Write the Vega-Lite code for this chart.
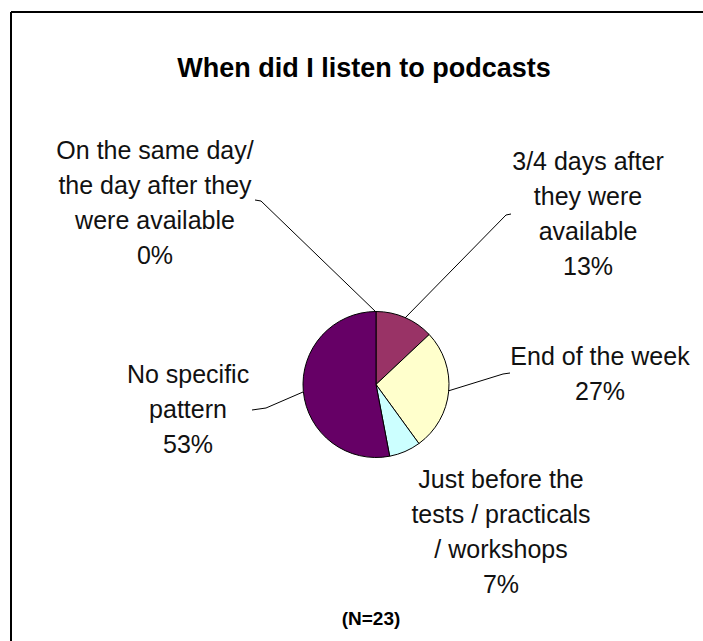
{
  "$schema": "https://vega.github.io/schema/vega-lite/v6.json",
  "width": 703,
  "height": 641,
  "autosize": {"type": "none"},
  "padding": 0,
  "background": "white",
  "config": {"view": {"stroke": null}},
  "datasets": {
    "borders": [
      {"x": 11, "y": 12, "x2": 703, "y2": 12},
      {"x": 11, "y": 12, "x2": 11, "y2": 641}
    ],
    "slices": [
      {"cat": "On the same day/ the day after they were available", "pct": 0, "ord": 1},
      {"cat": "3/4 days after they were available", "pct": 13, "ord": 2},
      {"cat": "End of the week", "pct": 27, "ord": 3},
      {"cat": "Just before the tests / practicals / workshops", "pct": 7, "ord": 4},
      {"cat": "No specific pattern", "pct": 53, "ord": 5}
    ],
    "leaders": [
      {"x": 255, "y": 200, "x2": 261, "y2": 201},
      {"x": 261, "y": 201, "x2": 376, "y2": 312},
      {"x": 511, "y": 214, "x2": 506, "y2": 215},
      {"x": 506, "y": 215, "x2": 405, "y2": 318},
      {"x": 448, "y": 391, "x2": 503, "y2": 374},
      {"x": 503, "y": 374, "x2": 510, "y2": 373},
      {"x": 252, "y": 410, "x2": 266, "y2": 408},
      {"x": 266, "y": 408, "x2": 303, "y2": 392}
    ],
    "labels": [
      {"label": ["On the same day/", "the day after they", "were available", "0%"], "x": 155, "y": 151},
      {"label": ["3/4 days after", "they were", "available", "13%"], "x": 588, "y": 162},
      {"label": ["End of the week", "27%"], "x": 600, "y": 357},
      {"label": ["No specific", "pattern", "53%"], "x": 188, "y": 375},
      {"label": ["Just before the", "tests / practicals", "/ workshops", "7%"], "x": 501, "y": 480}
    ],
    "titles": [
      {"label": "When did I listen to podcasts", "x": 364, "y": 69}
    ],
    "notes": [
      {"label": "(N=23)", "x": 371, "y": 619}
    ]
  },
  "layer": [
    {
      "data": {"name": "borders"},
      "mark": {"type": "rule", "color": "black", "strokeWidth": 2},
      "encoding": {
        "x": {"field": "x", "type": "quantitative", "scale": {"domain": [0, 703], "nice": false, "zero": false}, "axis": null},
        "y": {"field": "y", "type": "quantitative", "scale": {"domain": [0, 641], "nice": false, "zero": false, "reverse": true}, "axis": null},
        "x2": {"field": "x2"},
        "y2": {"field": "y2"}
      }
    },
    {
      "data": {"name": "slices"},
      "mark": {"type": "arc", "outerRadius": 73, "stroke": "black", "strokeWidth": 1},
      "encoding": {
        "x": {"datum": 376, "type": "quantitative"},
        "y": {"datum": 384.5, "type": "quantitative"},
        "theta": {"field": "pct", "type": "quantitative", "stack": true},
        "order": {"field": "ord", "type": "quantitative"},
        "color": {
          "field": "cat",
          "type": "nominal",
          "legend": null,
          "scale": {
            "domain": [
              "On the same day/ the day after they were available",
              "3/4 days after they were available",
              "End of the week",
              "Just before the tests / practicals / workshops",
              "No specific pattern"
            ],
            "range": ["#000080", "#993366", "#FFFFCC", "#CCFFFF", "#660066"]
          }
        }
      }
    },
    {
      "data": {"name": "leaders"},
      "mark": {"type": "rule", "color": "black", "strokeWidth": 1},
      "encoding": {
        "x": {"field": "x", "type": "quantitative"},
        "y": {"field": "y", "type": "quantitative"},
        "x2": {"field": "x2"},
        "y2": {"field": "y2"}
      }
    },
    {
      "data": {"name": "labels"},
      "mark": {"type": "text", "font": "Liberation Sans", "fontSize": 25, "lineHeight": 35, "align": "center", "baseline": "middle", "color": "#111111"},
      "encoding": {
        "x": {"field": "x", "type": "quantitative"},
        "y": {"field": "y", "type": "quantitative"},
        "text": {"field": "label", "type": "nominal"}
      }
    },
    {
      "data": {"name": "titles"},
      "mark": {"type": "text", "font": "Liberation Sans", "fontSize": 27, "fontWeight": "bold", "align": "center", "baseline": "middle", "color": "black"},
      "encoding": {
        "x": {"field": "x", "type": "quantitative"},
        "y": {"field": "y", "type": "quantitative"},
        "text": {"field": "label", "type": "nominal"}
      }
    },
    {
      "data": {"name": "notes"},
      "mark": {"type": "text", "font": "Liberation Sans", "fontSize": 19, "fontWeight": "bold", "align": "center", "baseline": "middle", "color": "black"},
      "encoding": {
        "x": {"field": "x", "type": "quantitative"},
        "y": {"field": "y", "type": "quantitative"},
        "text": {"field": "label", "type": "nominal"}
      }
    }
  ]
}
